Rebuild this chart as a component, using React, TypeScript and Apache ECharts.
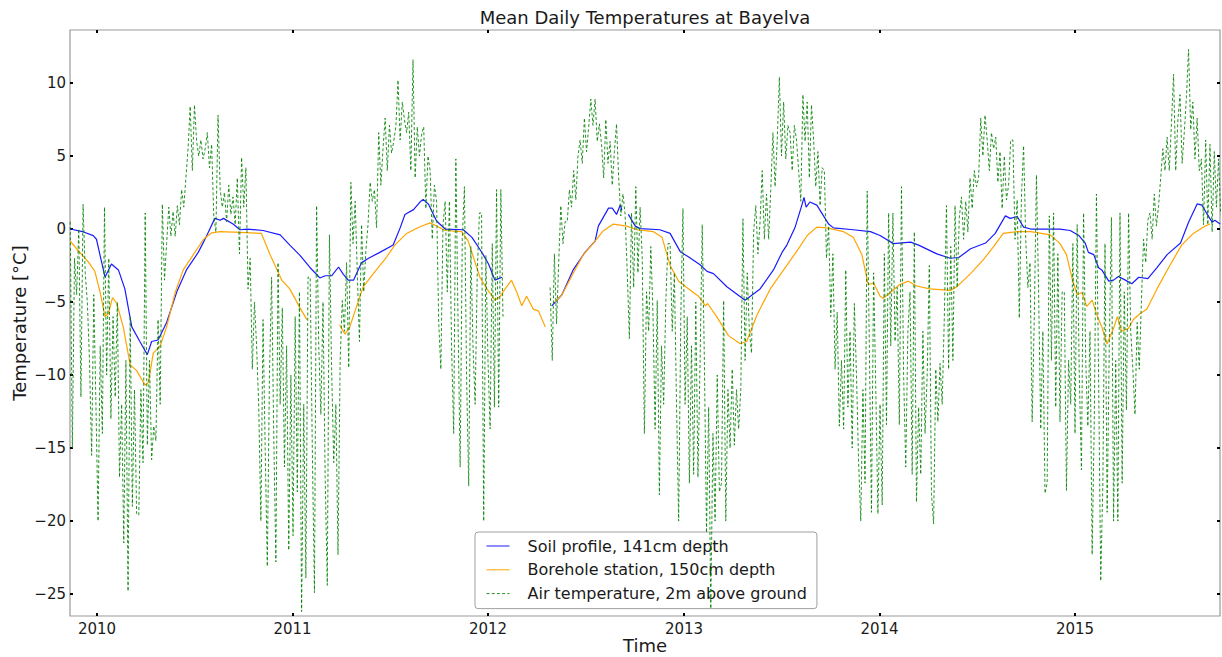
import React, { useEffect, useRef } from 'react';
import * as echarts from 'echarts';

// x values are days since 2010-01-01
const xMinDay = -50.4;
const xMaxDay = 2096.7;
const yMin = -26.5;
const yMax = 13.63;
const yearTickDays = [0, 365, 730, 1096, 1461, 1826];
const yearTickLabels = ['2010', '2011', '2012', '2013', '2014', '2015'];
const yTickValues = [-25, -20, -15, -10, -5, 0, 5, 10];

const titleText = 'Mean Daily Temperatures at Bayelva';
const xName = 'Time';
const yName = 'Temperature [°C]';
const seriesNames = [
  'Soil profile, 141cm depth',
  'Borehole station, 150cm depth',
  'Air temperature, 2m above ground',
];

const soilDays = [
  -50, -25, -7, -1, 15, 27, 40, 52, 65, 80, 94, 102, 114, 130, 149, 167, 189, 205, 220, 230, 236, 254, 267, 280,
  310, 342, 360, 379, 398, 416, 426, 438, 451, 460, 469, 479, 494, 507, 528, 553, 566, 575, 591, 603, 609, 619,
  634, 650, 684, 700, 715, 721, 731, 743, 756, 800, 849, 868, 889, 911, 930, 936, 955, 962, 970, 977, 980, 985,
  992, 1005, 1014, 1051, 1070, 1089, 1104, 1126, 1139, 1151, 1176, 1210, 1238, 1263, 1279, 1288, 1303, 1316,
  1320, 1324, 1331, 1344, 1366, 1375, 1412, 1444, 1462, 1487, 1519, 1534, 1568, 1593, 1609, 1631, 1659, 1677,
  1696, 1705, 1718, 1730, 1743, 1798, 1817, 1833, 1845, 1851, 1861, 1870, 1876, 1889, 1898, 1907, 1920, 1932,
  1945, 1962, 1979, 1998, 2023, 2038, 2054, 2063, 2073, 2082, 2087, 2097,
];
const soilTemps = [
  0, -0.2, -0.45, -0.7, -3.3, -2.4, -2.8, -4.1, -6.7, -7.7, -8.6, -7.7, -7.6, -6.4, -4.3, -2.8, -1.6, -0.45, 0.73,
  0.6, 0.73, 0.34, -0.05, 0, -0.1, -0.4, -1.1, -1.8, -2.65, -3.35, -3.2, -3.2, -2.6, -3.1, -3.5, -3.5, -2.3, -2.0,
  -1.6, -1.1, 0.08, 1.0, 1.33, 1.85, 2.03, 1.7, 0.55, 0, -0.05, -0.57, -1.4, -1.75, -2.4, -3.5, -3.3, null, -5.26,
  -4.5, -2.8, -1.6, -0.83, 0.2, 1.43, 1.43, 1.0, 1.64, 1.3, null, 1.0, 0.2, 0.03, -0.05, -0.3, -1.55, -1.9, -2.45,
  -2.9, -3.05, -3.95, -4.87, -4.1, -2.8, -1.6, -1.1, 0.08, 1.64, 2.16, 1.5, 1.85, 1.64, 0.34, 0.08, -0.05, -0.18,
  -0.44, -1.0, -0.9, -1.1, -1.7, -2.0, -1.95, -1.35, -0.96, -0.3, 0.9, 0.73, 0.86, 0.13, 0, 0, -0.1, -0.44, -0.96,
  -1.6, -1.75, -2.65, -2.8, -3.57, -3.5, -3.25, -3.5, -3.75, -3.3, -3.4, -2.65, -1.75, -0.96, 0.47, 1.72, 1.64,
  1.0, 0.47, 0.6, 0.34,
];

const boreDays = [
  -50, -38, -16, -4, 6, 15, 21, 29, 37, 49, 62, 74, 90, 96, 105, 118, 130, 146, 161, 180, 199, 214, 230, 267, 307,
  323, 345, 360, 379, 392, 420, 453, 463, 472, 485, 497, 516, 541, 556, 578, 603, 622, 637, 650, 681, 693, 715,
  728, 743, 753, 762, 774, 784, 793, 802, 815, 824, 837, 846, 855, 868, 889, 908, 930, 945, 964, 989, 1008, 1039,
  1055, 1070, 1086, 1101, 1123, 1136, 1140, 1157, 1179, 1201, 1213, 1232, 1257, 1282, 1307, 1326, 1344, 1363,
  1394, 1412, 1428, 1440, 1450, 1462, 1468, 1481, 1499, 1515, 1530, 1555, 1593, 1605, 1631, 1655, 1674, 1692,
  1718, 1743, 1780, 1798, 1810, 1820, 1830, 1839, 1848, 1858, 1867, 1876, 1886, 1898, 1905, 1913, 1926, 1935,
  1947, 1960, 1979, 2003, 2025, 2047, 2069, 2078,
];
const boreTemps = [
  -0.83, -1.35, -2.27, -2.9, -4.35, -6.0, -5.8, -4.7, -5.1, -6.7, -9.3, -9.7, -10.7, -10.5, -8.5, -8.0, -6.7,
  -4.35, -2.8, -1.75, -0.7, -0.26, -0.18, -0.23, -0.3, -1.75, -3.5, -4.1, -5.4, -6.2, null, -6.55, -7.2, -6.7,
  -5.26, -3.96, -3.05, -1.9, -1.1, -0.3, 0.16, 0.42, 0.16, -0.1, -0.18, -0.83, -3.3, -4.1, -4.87, -4.6, -4.1,
  -3.5, -4.35, -5.26, -4.6, -5.5, -5.6, -6.7, null, -5.0, -4.5, -3.05, -1.75, -0.83, -0.13, 0.34, 0.2, -0.05,
  -0.18, -0.57, -2.5, -3.57, -4.0, -4.6, -5.26, -5.1, -6.0, -7.3, -7.86, -7.7, -5.9, -4.1, -2.8, -1.5, -0.44,
  0.13, 0.08, -0.18, -0.57, -1.75, -3.8, -3.7, -4.6, -4.74, -4.35, -3.8, -3.57, -3.9, -4.1, -4.2, -3.96, -3.05,
  -2.1, -1.2, -0.3, -0.18, -0.18, -0.4, -1.0, -1.75, -3.3, -4.5, -4.35, -5.3, -4.87, -5.9, -6.7, -7.86, -6.8,
  -6.0, -7.0, -6.8, -6.2, -5.8, -5.5, -4.1, -2.5, -1.1, -0.3, 0.2, 0.34,
];

// air temperature: one reading every 4 days from day -50 (2009-11-12)
const airStartDay = -50;
const airStepDays = 4;
const airTemps = [
  0.5, -15, -2, -4.5, 0, -11.5, 1.7, -3,
  -5, -9, -15.5, -4.5, -12, -20, -8, -14,
  1.5, -10, -2, -13, -6, -11.5, -5, -17,
  -12, -21.5, -9, -24.8, -6, -19, -11, -19.5,
  -19.6, -11, -16, 1.1, -14.8, -9, -15.8, -13.5,
  -14.5, -6.2, -12, 1.7, -3.5, -1, 1.5, -0.5,
  1.2, -0.5, 1.6, 0.3, 2.7, 1.5, 3.5, 5.5,
  8.4, 4, 8.5, 6, 5, 6.1, 4.8, 5.5,
  6.6, 4.2, 5.8, 0.9, -0.2, 7.8, 2.7, 1.5,
  2.5, 0.5, 3, 1, 2.2, 0.3, 3.5, -1.7,
  4.9, 1.5, 4.2, -4.1, -2, -9.6, -5, -8,
  -12.2, -20, -6.2, -15, -23.1, -10, -3.3, -14,
  -22.8, -2.3, -12, -5.4, -16.3, -8, -22, -10,
  -21, -6, -18, -4.3, -26.2, -12, -23.9, -3.3,
  -3.3, -15, -24.9, 1.6, -8, -12.7, -5, -17,
  -24.4, -0.4, -9.5, -16, -12, -22.3, -9, -4.9,
  -7, -2.3, -9.5, 3.2, -1, 1.9, -3, -7.7,
  0.3, -4.3, -1.5, 0.3, 3.2, 1.9, 2.7, 0.1,
  6.6, 3, 5.5, 7.6, 4, 7.1, 5.2, 6,
  7, 10.2, 6.1, 8.7, 7.5, 6.6, 8, 4,
  11.6, 3.5, 7, 5, 6.5, 7, 1.4, 5,
  4, -0.7, 3, 1.9, -6.4, -9.6, 0.3, 1.9,
  -4.3, 1.9, -8, -14, 4.8, -6, -16.3, -0.7,
  2.9, -10, -17.6, -1.2, -8, -12, -3, 1.1,
  1.1, -20, -1.8, -9, -13.7, -1, -12.2, 2.7,
  -12.2, 2.7, -6, null, null, null, null, null,
  null, null, null, null, null, null, null, null,
  null, null, null, null, null, null, null, null,
  -4, -9, -1.7, -6.5, -2.3, 1.6, -1, 0.5,
  0.5, 2.7, 1.5, 4, 2, 5, 6.1, 4.5,
  7.6, 5.3, 7, 8.9, 7.1, 8.9, 6, 7.2,
  5.8, 3.5, 7.5, 4.5, 6, 3, 5.3, 7.2,
  3.5, 0.9, 2.4, 1, -3, -7.5, 1.1, -4,
  2.9, -3, 1.5, -2, -14, -4.3, -7, -1.2,
  -5.7, -13.7, -4.9, -18.2, -8, -12, -5, -1,
  -1, -7, -3, -12, -20, -6, 1.4, -12,
  -6, -17.4, -8, -16.8, -5, -17, -9, 0.3,
  -9, -20.8, -12.2, -26, -14, -20, -10, -18,
  -17.4, -4.9, -20, -11, -15, -9.6, -14.8, -11,
  -13.7, -11, 0.7, -9, -3, -7, -8.5, -0.2,
  1.6, -1.7, 0.5, 4, -0.7, 2.4, -0.7, 2.7,
  6.6, 2.9, 6, 10.4, 5, 8.7, 4.8, 7.1,
  6.6, 4, 7.1, 6.1, 4, 1.9, 9.2, 6,
  8.7, 3.5, 8.5, 6.1, 2.9, 5.3, 1.6, 4.2,
  4, -2, 0.2, -6, -1.7, -9.6, -5.7, -13.5,
  -9, -13.7, -2.8, -12.2, -7, -15, -5.1, -10,
  -16, -20, -11, -17.4, 2.6, -8, -19.4, -3,
  -10.9, -19.5, -12, -18.9, -1.7, -13.4, 1.1, -8,
  1.1, -7.7, -4, -13.4, 2.9, -10, -16.3, -7,
  -4.3, -16.8, -0.2, -18.7, -12.2, -16.8, -7, -14,
  -10, -2.5, -18.1, -20.2, -9.6, -13.2, -9.2, -12,
  -6, 1.6, -9.6, -1.2, -9, 1.6, -4, 0.8,
  2.2, -0.7, 1.9, -0.2, 3.5, 1.4, 4, 2.9,
  3.5, 7.6, 5, 7.8, 6.1, 4, 6.6, 5.5,
  6.3, 3.2, 5.3, 1.4, 5, 2, 3, 6.1,
  6.1, -0.7, 2, -6.1, 2.2, 5.7, -0.7, -4,
  -2.3, -13.2, -6, 3.7, -4.3, -13.7, -7, -18.1,
  -17.4, 0.9, -9, 1.1, -12.2, -1.7, -13.2, -4.3,
  -4.3, -17.9, -9, -12, -1, -14, 0.3, -10,
  -16.5, 1.1, -9, -13.5, -7, -22.3, -13, 2.4,
  -10, -24.1, -17.4, -1, -19.4, -8, 0.8, -20,
  -9, -20, 1.1, -17.4, -4.3, -12.4, 1.1, -7,
  -9.6, -12.7, -6.4, -9.6, -4.9, -0.7, -2.3, 0.6,
  1.1, -0.7, 2.4, 0.2, 1.6, 3.5, 5.5, 4,
  6.3, 4, 7.2, 10.6, 4, 7.4, 9.2, 4.5,
  6.6, 9, 12.3, 6.8, 8.7, 4.8, 7.6, 4,
  4.8, 0.3, 6.1, 0.3, 5.8, -0.2, 5.3, 1.5,
  4.8, 1,
];

const FONT = '"DejaVu Sans", sans-serif';
const TEXT = '#1a1a1a';

function pairs(days: number[], vals: (number | null)[]) {
  return days.map((d, i) => [d, vals[i] === null ? '-' : vals[i]]);
}

export default function App() {
  const ref = useRef<HTMLDivElement>(null);
  useEffect(() => {
    if (!ref.current) return;
    const chart = echarts.init(ref.current, null, { renderer: 'svg' });
    const airData = airTemps.map((v, i) => [airStartDay + i * airStepDays, v === null ? '-' : v]);
    const yearFmt = (v: number) => {
      const i = yearTickDays.indexOf(Math.round(v));
      return i >= 0 ? yearTickLabels[i] : '';
    };
    const tickStyle = { show: true, inside: true, length: 3, lineStyle: { color: '#000', width: 2 } };
    const noLine = { show: false, onZero: false };
    chart.setOption({
      animation: false,
      grid: { left: 70, right: 2, top: 30, bottom: 41, show: true, borderColor: '#9a9a9a', borderWidth: 1.2, backgroundColor: '#fff' },
      xAxis: [
        {
          type: 'value', min: xMinDay, max: xMaxDay, position: 'bottom',
          axisLine: noLine, splitLine: { show: false },
          axisTick: { ...tickStyle, customValues: yearTickDays },
          axisLabel: { customValues: yearTickDays, formatter: yearFmt, fontFamily: FONT, fontSize: 15, color: TEXT, margin: 5 },
        },
        {
          type: 'value', min: xMinDay, max: xMaxDay, position: 'top',
          axisLine: noLine, splitLine: { show: false },
          axisTick: { ...tickStyle, customValues: yearTickDays },
          axisLabel: { show: false },
        },
      ],
      yAxis: [
        {
          type: 'value', min: yMin, max: yMax, position: 'left',
          axisLine: noLine, splitLine: { show: false },
          axisTick: { ...tickStyle, customValues: yTickValues },
          axisLabel: { customValues: yTickValues, fontFamily: FONT, fontSize: 15, color: TEXT, margin: 4,
            formatter: (v: number) => (v < 0 ? '\u2212' + Math.abs(v) : String(v)) },
        },
        {
          type: 'value', min: yMin, max: yMax, position: 'right',
          axisLine: noLine, splitLine: { show: false },
          axisTick: { ...tickStyle, customValues: yTickValues },
          axisLabel: { show: false },
        },
      ],
      legend: {
        data: seriesNames,
        orient: 'vertical',
        left: 475,
        top: 532,
        padding: [6, 10, 7, 11],
        itemWidth: 23,
        itemHeight: 16,
        itemGap: 7.8,
        selectedMode: false,
        backgroundColor: '#fff',
        borderColor: '#a0a0a0',
        borderWidth: 1,
        borderRadius: 3,
        itemStyle: { opacity: 0, borderWidth: 0 },
        lineStyle: { width: 1 },
        textStyle: { fontFamily: FONT, fontSize: 16, color: TEXT, lineHeight: 16, padding: [0, 0, 0, 13] },
      },
      graphic: [
        { type: 'text', x: 645, y: 17, style: { text: titleText, font: '18px ' + FONT, fill: TEXT, textAlign: 'center', textVerticalAlign: 'middle' } },
        { type: 'text', x: 645, y: 645, style: { text: xName, font: '18px ' + FONT, fill: TEXT, textAlign: 'center', textVerticalAlign: 'middle' } },
        { type: 'text', x: 19, y: 323, rotation: Math.PI / 2, style: { text: yName, font: '18px ' + FONT, fill: TEXT, textAlign: 'center', textVerticalAlign: 'middle' } },
      ],
      series: [
        {
          name: seriesNames[0], type: 'line', data: pairs(soilDays, soilTemps), symbol: 'none',
          lineStyle: { color: '#1a1aff', width: 1.2 }, itemStyle: { color: '#1a1aff' }, z: 3,
        },
        {
          name: seriesNames[1], type: 'line', data: pairs(boreDays, boreTemps), symbol: 'none',
          lineStyle: { color: '#ffa500', width: 1.2 }, itemStyle: { color: '#ffa500' }, z: 3,
        },
        {
          name: seriesNames[2], type: 'line', data: airData, symbol: 'none',
          lineStyle: { color: '#008000', width: 1, type: [3, 2.2], opacity: 0.85 }, itemStyle: { color: '#008000' }, z: 4,
        },
      ],
    });
    return () => chart.dispose();
  }, []);
  return <div ref={ref} style={{ position: 'absolute', left: 0, top: 0, width: 1222, height: 657 }} />;
}
